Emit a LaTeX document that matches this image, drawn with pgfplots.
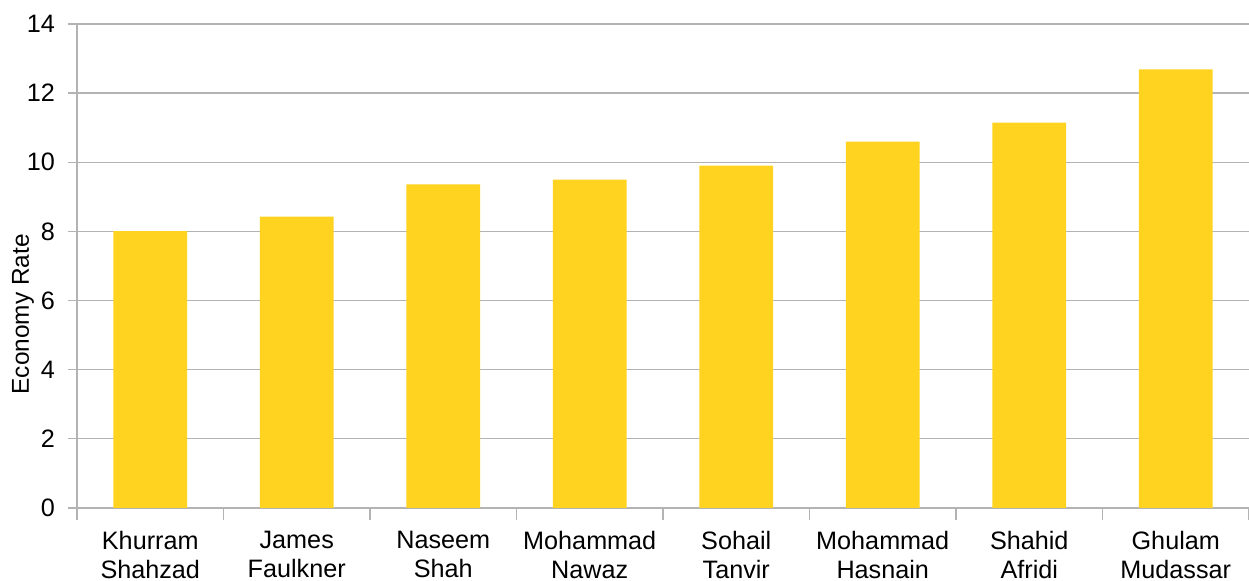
\documentclass[border=0pt]{standalone}
\usepackage{pgfplots}
\pgfplotsset{compat=1.18}
\usepackage{fontspec}
\setmainfont{Liberation Sans}
\definecolor{baryellow}{HTML}{FFD320}
\definecolor{gridgray}{HTML}{B3B3B3}
\begin{document}
\begin{tikzpicture}
\begin{axis}[
  scale only axis,
  width=586pt, height=242pt,
  xmin=-0.5, xmax=7.5,
  ymin=0, ymax=14,
  ytick={0,2,...,14},
  xtick={0,...,7},
  xticklabels={{Khurram\\Shahzad},{James\\Faulkner},{Naseem\\Shah},{Mohammad\\Nawaz},{Sohail\\Tanvir},{Mohammad\\Hasnain},{Shahid\\Afridi},{Ghulam\\Mudassar}},
  minor xtick={-0.5,0.5,...,7.5},
  major x tick style={draw=none},
  minor x tick style={draw=gridgray, line width=0.65pt},
  minor tick length=6pt,
  major tick length=4.5pt,
  tick align=outside,
  y tick style={draw=gridgray, line width=0.65pt},
  axis x line*=bottom,
  axis y line*=left,
  axis line style={draw=gridgray, line width=0.65pt, -},
  ymajorgrids,
  major grid style={draw=gridgray, line width=0.65pt},
  tick label style={font=\fontsize{12.6}{14.6}\selectfont},
  xticklabel style={align=center, yshift=-3.5pt},
  yticklabel style={xshift=-3pt},
  ylabel={Economy Rate},
  every axis y label/.style={at={(axis description cs:-0.046,0.40)}, rotate=90, anchor=center, font=\fontsize{12.2}{14}\selectfont},
  /pgf/number format/assume math mode=true,
  clip=false,
]
\addplot[ybar, bar width=0.505, fill=baryellow, draw=none] coordinates {
  (0,8.01) (1,8.43) (2,9.36) (3,9.50) (4,9.90) (5,10.60) (6,11.15) (7,12.69)
};
\end{axis}
\pgfresetboundingbox
\path (current axis.south west) ++(-38.5pt,-36.5pt) coordinate (bbA);
\path (current axis.north east) ++(0pt,12pt) coordinate (bbB);
\path[use as bounding box] (bbA) rectangle (bbB);
\end{tikzpicture}
\end{document}
